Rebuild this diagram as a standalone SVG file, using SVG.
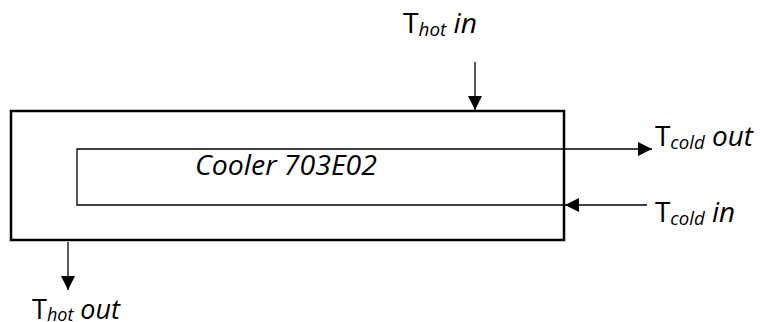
<svg xmlns="http://www.w3.org/2000/svg" width="760" height="322" viewBox="0 0 760 322">
<style>
.lbl{font-family:"Open Sans","Liberation Sans",sans-serif;font-size:27px;fill:#000}
.it{font-style:italic}
.sub{font-style:italic;font-size:18px}
.conn{stroke:#000;stroke-width:1.3;fill:none}
</style>
<defs>
<marker id="ah" viewBox="0 0 14 14" refX="14" refY="7" markerWidth="14" markerHeight="14" markerUnits="userSpaceOnUse" orient="auto">
<path d="M0,0 L14,7 L0,14 Z" fill="#000"/>
</marker>
</defs>
<rect width="760" height="322" fill="#fff"/>
<g id="cooler">
<rect x="11" y="111" width="553" height="129" fill="none" stroke="#000" stroke-width="2.5"/>
<text class="lbl it" x="195" y="175" textLength="182" lengthAdjust="spacingAndGlyphs" style="font-size:27px">Cooler 703E02</text>
</g>
<g id="connectors">
<line class="conn" x1="475" y1="62" x2="475" y2="110" marker-end="url(#ah)"/>
<line class="conn" x1="68" y1="242" x2="68" y2="290" marker-end="url(#ah)"/>
<polyline class="conn" stroke-width="1" points="564,205 77,205 77,149 652,149" marker-end="url(#ah)"/>
<line class="conn" x1="647" y1="205" x2="565" y2="205" marker-end="url(#ah)"/>
</g>
<g id="label-hot-in">
<text class="lbl" x="403" y="33" textLength="74" lengthAdjust="spacingAndGlyphs">T<tspan class="sub" dy="3">hot</tspan><tspan class="it" dy="-3"> in</tspan></text>
</g>
<g id="label-cold-out">
<text class="lbl" x="655" y="146" textLength="98" lengthAdjust="spacingAndGlyphs">T<tspan class="sub" dy="3">cold</tspan><tspan class="it" dy="-3"> out</tspan></text>
</g>
<g id="label-cold-in">
<text class="lbl" x="655" y="222" textLength="80" lengthAdjust="spacingAndGlyphs">T<tspan class="sub" dy="3">cold</tspan><tspan class="it" dy="-3"> in</tspan></text>
</g>
<g id="label-hot-out">
<text class="lbl" x="32" y="319" textLength="88" lengthAdjust="spacingAndGlyphs">T<tspan class="sub" dy="2">hot</tspan><tspan class="it" dy="-2"> out</tspan></text>
</g>
</svg>
